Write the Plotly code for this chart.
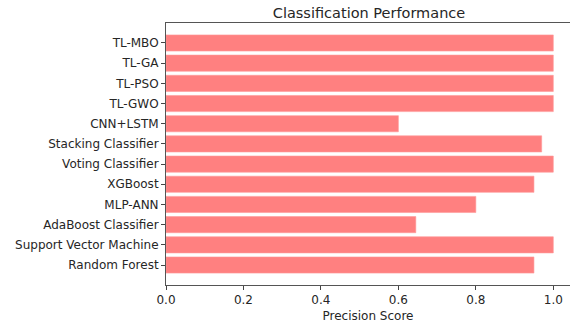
import plotly.graph_objects as go

models = ["Random Forest", "Support Vector Machine", "AdaBoost Classifier", "MLP-ANN",
          "XGBoost", "Voting Classifier", "Stacking Classifier", "CNN+LSTM",
          "TL-GWO", "TL-PSO", "TL-GA", "TL-MBO"]
precision = [0.95, 1.0, 0.645, 0.80, 0.95, 1.0, 0.97, 0.60, 1.0, 1.0, 1.0, 1.0]
x_ticks = [0.0, 0.2, 0.4, 0.6, 0.8, 1.0]
x_tick_labels = ["0.0", "0.2", "0.4", "0.6", "0.8", "1.0"]

font = "DejaVu Sans, Verdana, sans-serif"
txt = "#262626"

fig = go.Figure(go.Bar(
    x=precision, y=list(range(len(models))), orientation="h",
    width=0.8, marker=dict(color="#FF8080", line=dict(color="#FF9999", width=0.6)),
    hoverinfo="x+y",
))

fig.update_layout(
    width=570, height=324,
    margin=dict(l=166, r=0, t=23, b=39),
    paper_bgcolor="white", plot_bgcolor="white",
    showlegend=False,
    title=dict(text="Classification Performance", x=369 / 570, xanchor="center",
               y=1 - 13 / 324, yanchor="middle", yref="container",
               font=dict(family=font, size=14.5, color=txt)),
    font=dict(family=font, size=12, color=txt),
)

fig.update_xaxes(
    range=[0, (570 - 166) / 387.3], tickvals=x_ticks, ticktext=x_tick_labels,
    showgrid=False, zeroline=False,
    showline=True, linecolor="#555555", linewidth=1, mirror=True,
    ticks="outside", ticklen=4, tickcolor="#444444",
    tickfont=dict(family=font, size=12, color=txt),
    title=dict(text="Precision Score", standoff=5, font=dict(family=font, size=12, color=txt)),
)
fig.update_yaxes(
    range=[-0.99, 11.99], tickvals=list(range(len(models))), ticktext=models,
    showgrid=False, zeroline=False,
    showline=True, linecolor="#555555", linewidth=1,
    ticks="outside", ticklen=4, tickcolor="#444444",
    tickfont=dict(family=font, size=12, color=txt),
)

fig.write_html("out.html", config={"displayModeBar": False},
               post_script="document.body.style.margin='0';document.body.style.overflow='hidden';")
